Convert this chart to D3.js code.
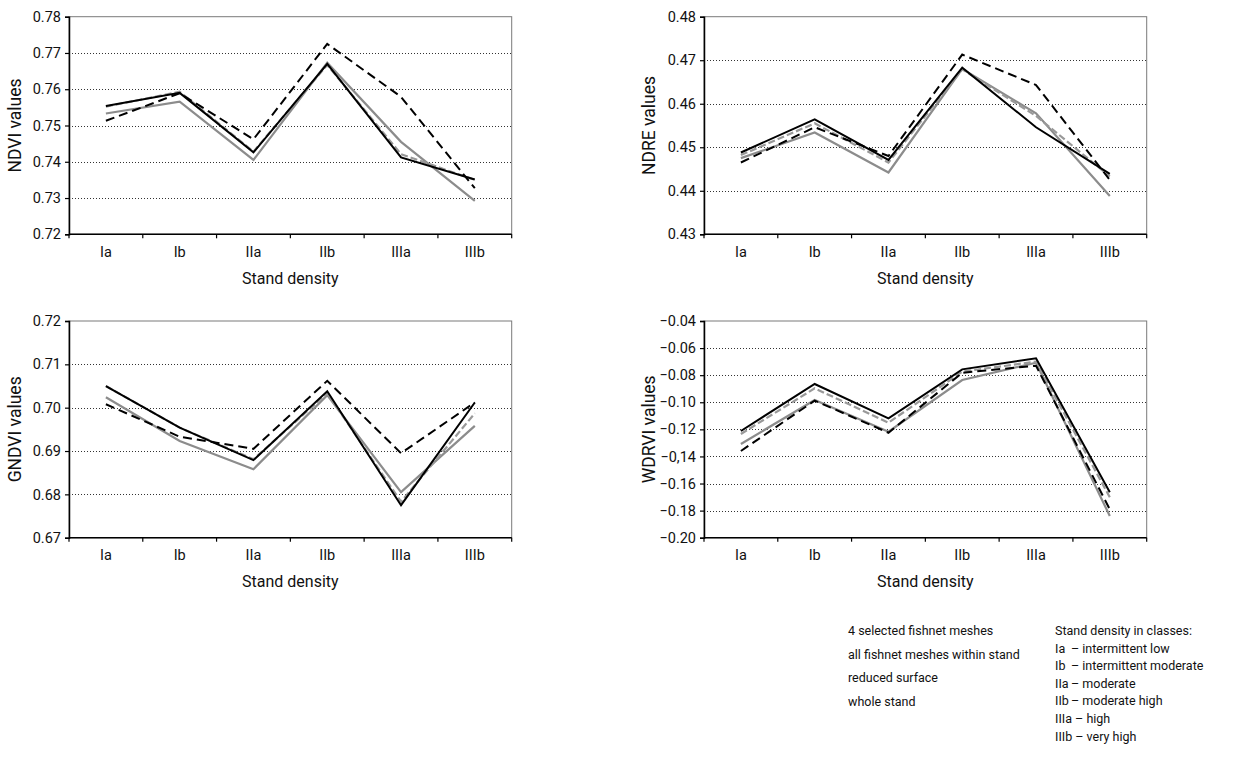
<!DOCTYPE html>
<html>
<head>
<meta charset="utf-8">
<script src="https://cdn.jsdelivr.net/npm/d3@7"></script>
<style>
  body { margin: 0; background: #fff; }
  svg text { font-family: Roboto, "Noto Sans", sans-serif; fill: #111; }
</style>
</head>
<body>
<script>
// categories on x axis (stand density classes)
var categories = ['Ia', 'Ib', 'IIa', 'IIb', 'IIIa', 'IIIb'];

// series, in legend order
var seriesNames = ['4 selected fishnet meshes', 'all fishnet meshes within stand', 'reduced surface', 'whole stand'];

// values, one row per series (same order as seriesNames)
var ndvi = [
  [0.7554, 0.7590, 0.7426, 0.7670, 0.7412, 0.7351],
  [0.7513, 0.7589, 0.7462, 0.7725, 0.7579, 0.7327],
  [0.7533, 0.7566, 0.7405, 0.7673, 0.7455, 0.7292],
  [0.7552, 0.7593, 0.7428, 0.7667, 0.7421, 0.7350]
];
var ndre = [
  [0.4488, 0.4564, 0.4471, 0.4683, 0.4546, 0.4439],
  [0.4465, 0.4546, 0.4480, 0.4713, 0.4643, 0.4425],
  [0.4475, 0.4534, 0.4442, 0.4680, 0.4578, 0.4388],
  [0.4482, 0.4555, 0.4465, 0.4679, 0.4572, 0.4433]
];
var gndvi = [
  [0.7050, 0.6954, 0.6879, 0.7038, 0.6775, 0.7012],
  [0.7008, 0.6933, 0.6905, 0.7062, 0.6895, 0.7012],
  [0.7024, 0.6923, 0.6858, 0.7029, 0.6805, 0.6958],
  [0.7050, 0.6954, 0.6881, 0.7033, 0.6783, 0.6987]
];
var wdrvi = [
  [-0.1212, -0.0865, -0.1119, -0.0757, -0.0676, -0.1665],
  [-0.1360, -0.0988, -0.1225, -0.0782, -0.0730, -0.1791],
  [-0.1308, -0.0983, -0.1217, -0.0836, -0.0708, -0.1840],
  [-0.1234, -0.0897, -0.1151, -0.0774, -0.0700, -0.1702]
];

// y ticks
var ndviTicks = [0.72, 0.73, 0.74, 0.75, 0.76, 0.77, 0.78];
var ndreTicks = [0.43, 0.44, 0.45, 0.46, 0.47, 0.48];
var gndviTicks = [0.67, 0.68, 0.69, 0.70, 0.71, 0.72];
var wdrviTicks = [-0.20, -0.18, -0.16, -0.14, -0.12, -0.10, -0.08, -0.06, -0.04];
var wdrviTickLabels = ['\u22120.20', '\u22120.18', '\u22120.16', '\u22120,14', '\u22120.12', '\u22120.10', '\u22120.08', '\u22120.06', '\u22120.04'];

var classNotes = [
  ['Ia', '\u2013 intermittent low'],
  ['Ib', '\u2013 intermittent moderate'],
  ['IIa', '\u2013 moderate'],
  ['IIb', '\u2013 moderate high'],
  ['IIIa', '\u2013 high'],
  ['IIIb', '\u2013 very high']
];

// line style per series
var styles = [
  {color: '#000', dash: null, width: 2},
  {color: '#000', dash: '9,5', width: 2},
  {color: '#8c8c8c', dash: null, width: 2.2},
  {color: '#999', dash: '7,3', width: 2.2}
];
var drawOrder = [2, 3, 1, 0];

var tickFont = 14.5, titleFontX = 16, titleFontY = 17.5, legFont = 12.5;

var svg = d3.select('body').append('svg').attr('width', 1260).attr('height', 757);

var panels = [
  {values: ndvi, ticks: ndviTicks, labels: null, title: 'NDVI values', x0: 69, x1: 511.7, y0: 16.7, y1: 234.3, labelX: 21},
  {values: ndre, ticks: ndreTicks, labels: null, title: 'NDRE values', x0: 704, x1: 1146.7, y0: 16.7, y1: 234.3, labelX: 655},
  {values: gndvi, ticks: gndviTicks, labels: null, title: 'GNDVI values', x0: 69, x1: 511.7, y0: 321, y1: 537.7, labelX: 21},
  {values: wdrvi, ticks: wdrviTicks, labels: wdrviTickLabels, title: 'WDRVI values', x0: 704, x1: 1146.7, y0: 321, y1: 537.7, labelX: 655}
];

panels.forEach(function(p) {
  var g = svg.append('g');
  var x = d3.scaleBand().domain(categories).range([p.x0, p.x1]);
  var y = d3.scaleLinear().domain(d3.extent(p.ticks)).range([p.y1, p.y0]);

  // gray frame (top / right)
  g.append('rect')
    .attr('x', p.x0).attr('y', p.y0)
    .attr('width', p.x1 - p.x0).attr('height', p.y1 - p.y0)
    .attr('fill', 'none').attr('stroke', '#7a7a7a').attr('stroke-width', 1);

  // dotted grid
  g.selectAll('.grid').data(p.ticks.filter(function(t, i) { return i > 0 && i < p.ticks.length - 1; }))
    .enter().append('line')
    .attr('x1', p.x0).attr('x2', p.x1)
    .attr('y1', function(d) { return Math.round(y(d)) + 0.5; })
    .attr('y2', function(d) { return Math.round(y(d)) + 0.5; })
    .attr('stroke', '#333').attr('stroke-width', 1).attr('stroke-dasharray', '1,2');

  // y axis
  var yAxis = d3.axisLeft(y).tickValues(p.ticks).tickSize(4).tickPadding(4)
    .tickFormat(function(d, i) { return p.labels ? p.labels[i] : d3.format('.2f')(d); });
  var ya = g.append('g').attr('transform', 'translate(' + p.x0 + ',0)').call(yAxis);
  ya.select('.domain').attr('stroke', '#000').attr('stroke-width', 1.5);
  ya.selectAll('.tick line').attr('stroke', '#000').attr('stroke-width', 1.2);
  ya.selectAll('.tick text').attr('font-size', tickFont).attr('fill', '#111')
    .style('font-family', 'Roboto, "Noto Sans", sans-serif');

  // x axis: ticks on band edges, labels centred
  var xa = g.append('g').attr('transform', 'translate(0,' + p.y1 + ')');
  xa.append('line').attr('x1', p.x0).attr('x2', p.x1).attr('y1', 0).attr('y2', 0)
    .attr('stroke', '#000').attr('stroke-width', 1.5);
  var edges = categories.map(function(c) { return x(c); }).concat([p.x1]);
  xa.selectAll('.xt').data(edges).enter().append('line')
    .attr('x1', function(d) { return d; }).attr('x2', function(d) { return d; })
    .attr('y1', 0).attr('y2', 4).attr('stroke', '#000').attr('stroke-width', 1.2);
  xa.selectAll('.xl').data(categories).enter().append('text')
    .attr('x', function(d) { return x(d) + x.bandwidth() / 2; })
    .attr('y', 22.5).attr('text-anchor', 'middle').attr('font-size', tickFont)
    .text(function(d) { return d; });
  xa.append('text')
    .attr('x', (p.x0 + p.x1) / 2).attr('y', 49.5).attr('text-anchor', 'middle')
    .attr('font-size', titleFontX).text('Stand density');

  // y title
  g.append('text')
    .attr('transform', 'translate(' + p.labelX + ',' + ((p.y0 + p.y1) / 2) + ') rotate(-90)')
    .attr('text-anchor', 'middle').attr('font-size', titleFontY).text(p.title);

  // lines
  var line = d3.line()
    .x(function(d, i) { return x(categories[i]) + x.bandwidth() / 2; })
    .y(function(d) { return y(d); });
  drawOrder.forEach(function(s) {
    g.append('path').datum(p.values[s])
      .attr('d', line).attr('fill', 'none')
      .attr('stroke', styles[s].color).attr('stroke-width', styles[s].width)
      .attr('stroke-dasharray', styles[s].dash)
      .attr('stroke-linejoin', 'miter');
  });
});

// legend (series names only, as in the source)
var leg = svg.append('g');
leg.selectAll('text').data(seriesNames).enter().append('text')
  .attr('x', 848).attr('y', function(d, i) { return 635 + i * 23.7; })
  .attr('font-size', legFont).text(function(d) { return d; });

// class explanation
var notes = svg.append('g');
notes.append('text').attr('x', 1055).attr('y', 635).attr('font-size', legFont).text('Stand density in classes:');
classNotes.forEach(function(n, i) {
  var yy = 652.5 + i * 17.6;
  if (i < 4) {
    notes.append('text').attr('x', 1055).attr('y', yy).attr('font-size', legFont).text(n[0]);
    notes.append('text').attr('x', 1071).attr('y', yy).attr('font-size', legFont).text(n[1]);
  } else {
    notes.append('text').attr('x', 1055).attr('y', yy).attr('font-size', legFont).text(n[0] + ' ' + n[1]);
  }
});
</script>
</body>
</html>
